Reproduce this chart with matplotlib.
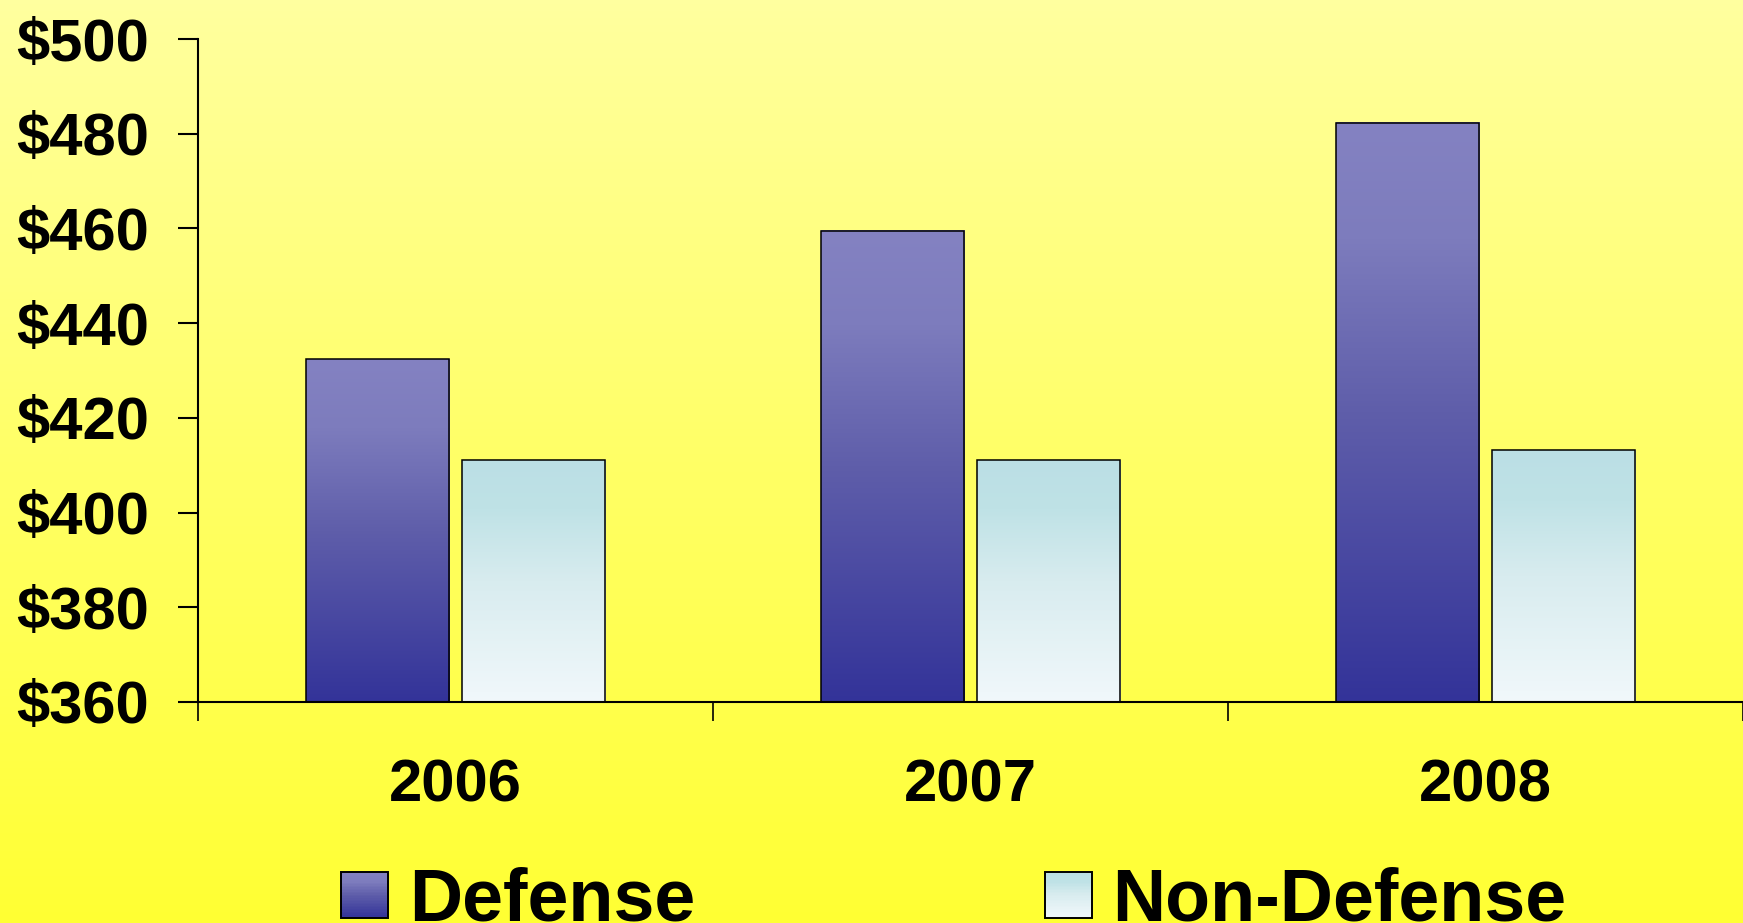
import numpy as np
import matplotlib
matplotlib.use("Agg")
import matplotlib.pyplot as plt
from matplotlib.colors import LinearSegmentedColormap
from matplotlib.patches import Rectangle
from matplotlib.legend_handler import HandlerBase

# Chart data (in $ billions)
years = ["2006", "2007", "2008"]
defense = [432.4, 459.5, 482.3]
non_defense = [411.1, 411.1, 413.2]
series_names = ["Defense", "Non-Defense"]
y_ticks = [360, 380, 400, 420, 440, 460, 480, 500]

# Gradient colour maps (index 0 = bottom of bar, 1 = top)
def_cmap = LinearSegmentedColormap.from_list(
    "def", [(0, "#333399"), (0.5, "#5f5eaa"), (0.8, "#7d7cbd"), (1, "#8482c2")])
non_cmap = LinearSegmentedColormap.from_list(
    "non", [(0, "#f1f8fb"), (0.5, "#d8ecef"), (0.8, "#bfe2e6"), (1, "#bbdfe5")])
bg_cmap = LinearSegmentedColormap.from_list("bg", ["#ffff33", "#ffff66", "#ffff9f"])

plt.rcParams["font.family"] = ["Liberation Sans", "DejaVu Sans"]
plt.rcParams["font.weight"] = "bold"

fig = plt.figure(figsize=(17.43, 9.23), dpi=100)

# yellow background gradient over the whole figure
bg = fig.add_axes([0, 0, 1, 1], zorder=-10)
grad = np.linspace(0, 1, 256).reshape(-1, 1)
bg.imshow(grad, aspect="auto", cmap=bg_cmap, origin="lower", extent=[0, 1, 0, 1])
bg.axis("off")

ax = fig.add_axes([0.1136, 0.2395, 0.8864, 0.7182])
ax.patch.set_alpha(0)

x = np.arange(len(years)) + 0.5
width = 0.278
off = 0.152


def gradient_bars(xpos, vals, cmap):
    bars = ax.bar(xpos, np.array(vals) - 360, width, bottom=360, facecolor="none",
                  edgecolor="black", linewidth=1.1, zorder=3)
    for b in bars:
        x0, y0 = b.get_x(), b.get_y()
        ax.imshow(grad, aspect="auto", cmap=cmap, origin="lower",
                  extent=[x0, x0 + b.get_width(), y0, y0 + b.get_height()], zorder=2)
    return bars


gradient_bars(x - off, defense, def_cmap)
gradient_bars(x + off, non_defense, non_cmap)

ax.set_xlim(0, 3)
ax.set_ylim(360, 500)

for s in ["top", "right"]:
    ax.spines[s].set_visible(False)
for s in ["left", "bottom"]:
    ax.spines[s].set_linewidth(1.5)

ax.set_yticks(y_ticks)
ax.set_yticklabels([f"${v}" for v in y_ticks], fontsize=43, fontweight="bold")
ax.tick_params(axis="y", direction="out", length=14.4, width=1.5, pad=21)

ax.set_xticks(x)
ax.set_xticklabels(years, fontsize=43, fontweight="bold")
ax.set_xticks(np.arange(len(years) + 1), minor=True)
ax.tick_params(axis="x", which="major", length=0, pad=41)
ax.tick_params(axis="x", which="minor", direction="out", length=13.7, width=1.2)
for t in ax.xaxis.get_minor_ticks():
    t.tick1line.set_clip_on(False)


class GradientHandler(HandlerBase):
    def __init__(self, cmap):
        super().__init__()
        self.cmap = cmap

    def create_artists(self, legend, orig_handle, xdescent, ydescent, width, height,
                       fontsize, trans):
        arts = []
        n = 30
        for i in range(n):
            arts.append(Rectangle((-xdescent, -ydescent + height * i / n), width,
                                  height / n * 1.05, facecolor=self.cmap(i / (n - 1)),
                                  edgecolor="none", transform=trans))
        arts.append(Rectangle((-xdescent, -ydescent), width, height, facecolor="none",
                              edgecolor="black", linewidth=1.4, transform=trans))
        return arts


h_def = Rectangle((0, 0), 1, 1)
h_non = Rectangle((0, 0), 1, 1)
fig.legend([h_def, h_non], series_names, ncol=2, loc="lower left",
           bbox_to_anchor=(0.1956, -0.014), frameon=False, borderpad=0, borderaxespad=0,
           handlelength=0.64, handleheight=0.59, handletextpad=0.28, columnspacing=4.75,
           prop={"size": 53, "weight": "bold"},
           handler_map={h_def: GradientHandler(def_cmap), h_non: GradientHandler(non_cmap)})

fig.savefig("out.png", dpi=100)
